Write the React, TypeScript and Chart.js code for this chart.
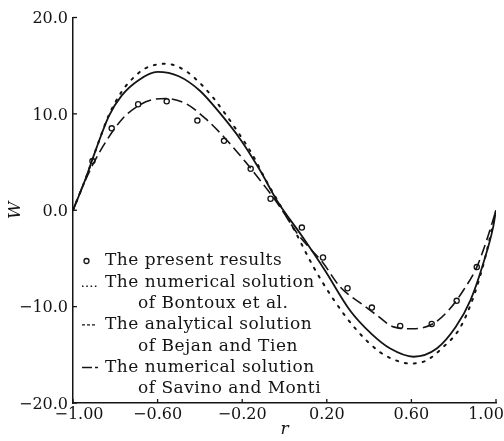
import { useEffect, useRef } from "react";
import { Chart, registerables } from "chart.js";

Chart.register(...registerables);

// ---- data ----
const rPresent = [-0.908, -0.817, -0.692, -0.557, -0.412, -0.286, -0.16, -0.066, 0.082, 0.182, 0.298, 0.413, 0.547, 0.696, 0.814, 0.909];
const wPresent = [5.1, 8.5, 11.0, 11.3, 9.3, 7.2, 4.3, 1.2, -1.8, -4.9, -8.1, -10.1, -12.0, -11.8, -9.4, -5.9];

const rBontoux = [-1, -0.94, -0.89, -0.83, -0.77, -0.73, -0.66, -0.56, -0.47, -0.4, -0.34, -0.28, -0.215, -0.15, -0.09, -0.03, 0.05, 0.13, 0.23, 0.34, 0.45, 0.53, 0.59, 0.67, 0.75, 0.83, 0.9, 0.95, 1.0];
const wBontoux = [0, 3.3, 6.4, 9.9, 12.3, 13.4, 14.7, 15.2, 14.5, 13.2, 11.75, 10.0, 7.95, 5.7, 3.2, 0.9, -2.2, -5.6, -9.2, -12.4, -14.7, -15.6, -15.9, -15.6, -14.2, -12.2, -8.6, -4.8, 0];

const rBejan = [-1, -0.94, -0.89, -0.83, -0.77, -0.69, -0.6, -0.5, -0.4, -0.31, -0.21, -0.12, -0.03, 0.08, 0.19, 0.31, 0.41, 0.5, 0.61, 0.72, 0.81, 0.88, 0.94, 0.987, 1.0];
const wBejan = [0, 3.3, 6.4, 9.8, 11.9, 13.5, 14.35, 13.9, 12.4, 10.2, 7.4, 4.3, 0.8, -2.6, -6.2, -10.4, -12.8, -14.35, -15.2, -14.35, -12.1, -9.3, -5.5, -1.7, 0];

const rSavino = [-1, -0.96, -0.908, -0.845, -0.766, -0.687, -0.62, -0.562, -0.467, -0.373, -0.278, -0.184, -0.09, -0.02, 0.06, 0.114, 0.18, 0.263, 0.373, 0.437, 0.515, 0.61, 0.704, 0.783, 0.846, 0.909, 0.956, 1.0];
const wSavino = [0, 2.2, 4.67, 7.1, 9.5, 10.9, 11.5, 11.6, 11.07, 9.5, 7.4, 5.0, 2.4, 0.3, -2.4, -3.8, -5.4, -7.95, -9.85, -10.9, -12.1, -12.3, -11.75, -10.2, -8.3, -5.9, -3.1, 0];

const yTickLabels = ["\u221220.0", "\u221210.0", "0.0", "10.0", "20.0"];
const xTickLabels = ["\u22121.00", "\u22120.60", "\u22120.20", "0.20", "0.60", "1.00"];

const legendLines = [
  ["The present results"],
  ["The numerical solution", "of Bontoux et al."],
  ["The analytical solution", "of Bejan and Tien"],
  ["The numerical solution", "of Savino and Monti"],
];

const INK = "#141414";

const toXY = (xs: number[], ys: number[]) => xs.map((x, i) => ({ x, y: ys[i] }));

const innerPlugin = {
  id: "innerDecor",
  afterDraw(chart: any) {
    const { ctx, chartArea, scales } = chart;
    const xs = scales.x;
    const ys = scales.y;
    ctx.save();
    // inward tick marks
    ctx.strokeStyle = INK;
    ctx.lineWidth = 1.3;
    ctx.setLineDash([]);
    ys.ticks.forEach((t: any) => {
      const p = ys.getPixelForValue(t.value);
      ctx.beginPath();
      ctx.moveTo(chartArea.left, p);
      ctx.lineTo(chartArea.left + 4, p);
      ctx.stroke();
    });
    xs.ticks.forEach((t: any) => {
      const p = xs.getPixelForValue(t.value);
      ctx.beginPath();
      ctx.moveTo(p, chartArea.bottom);
      ctx.lineTo(p, chartArea.bottom - 4);
      ctx.stroke();
    });
    // x tick labels
    ctx.fillStyle = INK;
    ctx.font = '16px "DejaVu Serif"';
    ctx.textAlign = "center";
    ctx.textBaseline = "middle";
    const n = xs.ticks.length;
    xs.ticks.forEach((t: any, i: number) => {
      let p = xs.getPixelForValue(t.value);
      if (i === 0) p += 6;
      if (i === n - 1) p -= 10;
      ctx.fillText(xTickLabels[i] ?? String(t.value), p, chartArea.bottom + 12);
    });
    // legend inside plot
    ctx.font = '17px "DejaVu Serif"';
    ctx.textAlign = "left";
    (ctx as any).letterSpacing = "0.5px";
    const left = chartArea.left;
    const top = chartArea.top + 243.5;
    const lh = 21.3;
    let line = 0;
    chart.data.datasets.forEach((ds: any, i: number) => {
      const y = top + line * lh;
      ctx.strokeStyle = INK;
      if (ds.showLine === false) {
        ctx.setLineDash([]);
        ctx.lineWidth = 1.3;
        ctx.beginPath();
        ctx.arc(left + 13.5, y, 2.5, 0, Math.PI * 2);
        ctx.stroke();
      } else {
        ctx.setLineDash(ds.legendDash || ds.borderDash || []);
        ctx.lineWidth = 1.4;
        ctx.beginPath();
        const yy = y + (ds.legendYOff || 0);
        ctx.moveTo(left + 9, yy);
        ctx.lineTo(left + (ds.legendLen || 24), yy);
        ctx.stroke();
      }
      const lines = legendLines[i];
      lines.forEach((t: string, j: number) => {
        ctx.fillText(t, left + (j === 0 ? 32 : 65), top + (line + j) * lh);
      });
      line += lines.length;
    });
    ctx.restore();
  },
};

export default function App() {
  const ref = useRef<HTMLCanvasElement | null>(null);
  useEffect(() => {
    if (!ref.current) return;
    const chart = new Chart(ref.current, {
      type: "line",
      data: {
        datasets: [
          {
            label: legendLines[0].join(" "),
            data: toXY(rPresent, wPresent),
            showLine: false,
            pointRadius: 2.6,
            pointBorderWidth: 1.3,
            pointBorderColor: INK,
            pointBackgroundColor: "rgba(255,255,255,0)",
          } as any,
          {
            label: legendLines[1].join(" "),
            data: toXY(rBontoux, wBontoux),
            borderColor: INK,
            borderWidth: 2,
            borderDash: [2, 7],
            borderCapStyle: "round",
            legendDash: [1.5, 2.8],
            legendYOff: 4,
            legendLen: 24,
            pointRadius: 0,
            cubicInterpolationMode: "monotone",
          } as any,
          {
            label: legendLines[2].join(" "),
            data: toXY(rBejan, wBejan),
            borderColor: INK,
            borderWidth: 1.8,
            legendDash: [3, 2],
            legendLen: 23,
            pointRadius: 0,
            cubicInterpolationMode: "monotone",
          } as any,
          {
            label: legendLines[3].join(" "),
            data: toXY(rSavino, wSavino),
            borderColor: INK,
            borderWidth: 1.6,
            borderDash: [11, 5],
            legendDash: [10, 3, 3, 20],
            legendLen: 27,
            pointRadius: 0,
            cubicInterpolationMode: "monotone",
          } as any,
        ],
      },
      options: {
        responsive: false,
        animation: false,
        events: [],
        layout: { padding: { left: 0, right: 8, top: 17.5, bottom: 0 } },
        plugins: { legend: { display: false }, tooltip: { enabled: false } },
        scales: {
          x: {
            type: "linear",
            min: -1,
            max: 1,
            ticks: { stepSize: 0.4, display: false },
            grid: { display: false, drawTicks: false },
            border: { display: true, color: INK, width: 1.5 },
            title: {
              display: true,
              text: "r",
              color: INK,
              font: { family: "DejaVu Serif", style: "italic", size: 17 },
              padding: { top: 0, bottom: 1 },
            },
            afterFit: (s: any) => {
              s.height = 38;
              s.paddingLeft = 0;
              s.paddingRight = 0;
            },
          },
          y: {
            type: "linear",
            min: -20,
            max: 20,
            ticks: {
              stepSize: 10,
              color: INK,
              padding: 5,
              labelOffset: 1.5,
              font: { family: "DejaVu Serif", size: 16 },
              callback: (_v: any, i: number) => yTickLabels[i],
            },
            grid: { display: false, drawTicks: false },
            border: { display: true, color: INK, width: 1.5 },
            title: {
              display: true,
              text: "W",
              color: INK,
              font: { family: "DejaVu Serif", style: "italic", size: 17 },
              padding: { top: 5, bottom: 0 },
            },
            afterFit: (s: any) => {
              s.width = 73;
              s.paddingTop = 0;
              s.paddingBottom = 0;
            },
          },
        },
      } as any,
      plugins: [innerPlugin],
    });
    return () => chart.destroy();
  }, []);
  return (
    <canvas
      ref={ref}
      width={504}
      height={441}
      style={{ position: "absolute", left: 0, top: 0, width: 504, height: 441 }}
    />
  );
}
